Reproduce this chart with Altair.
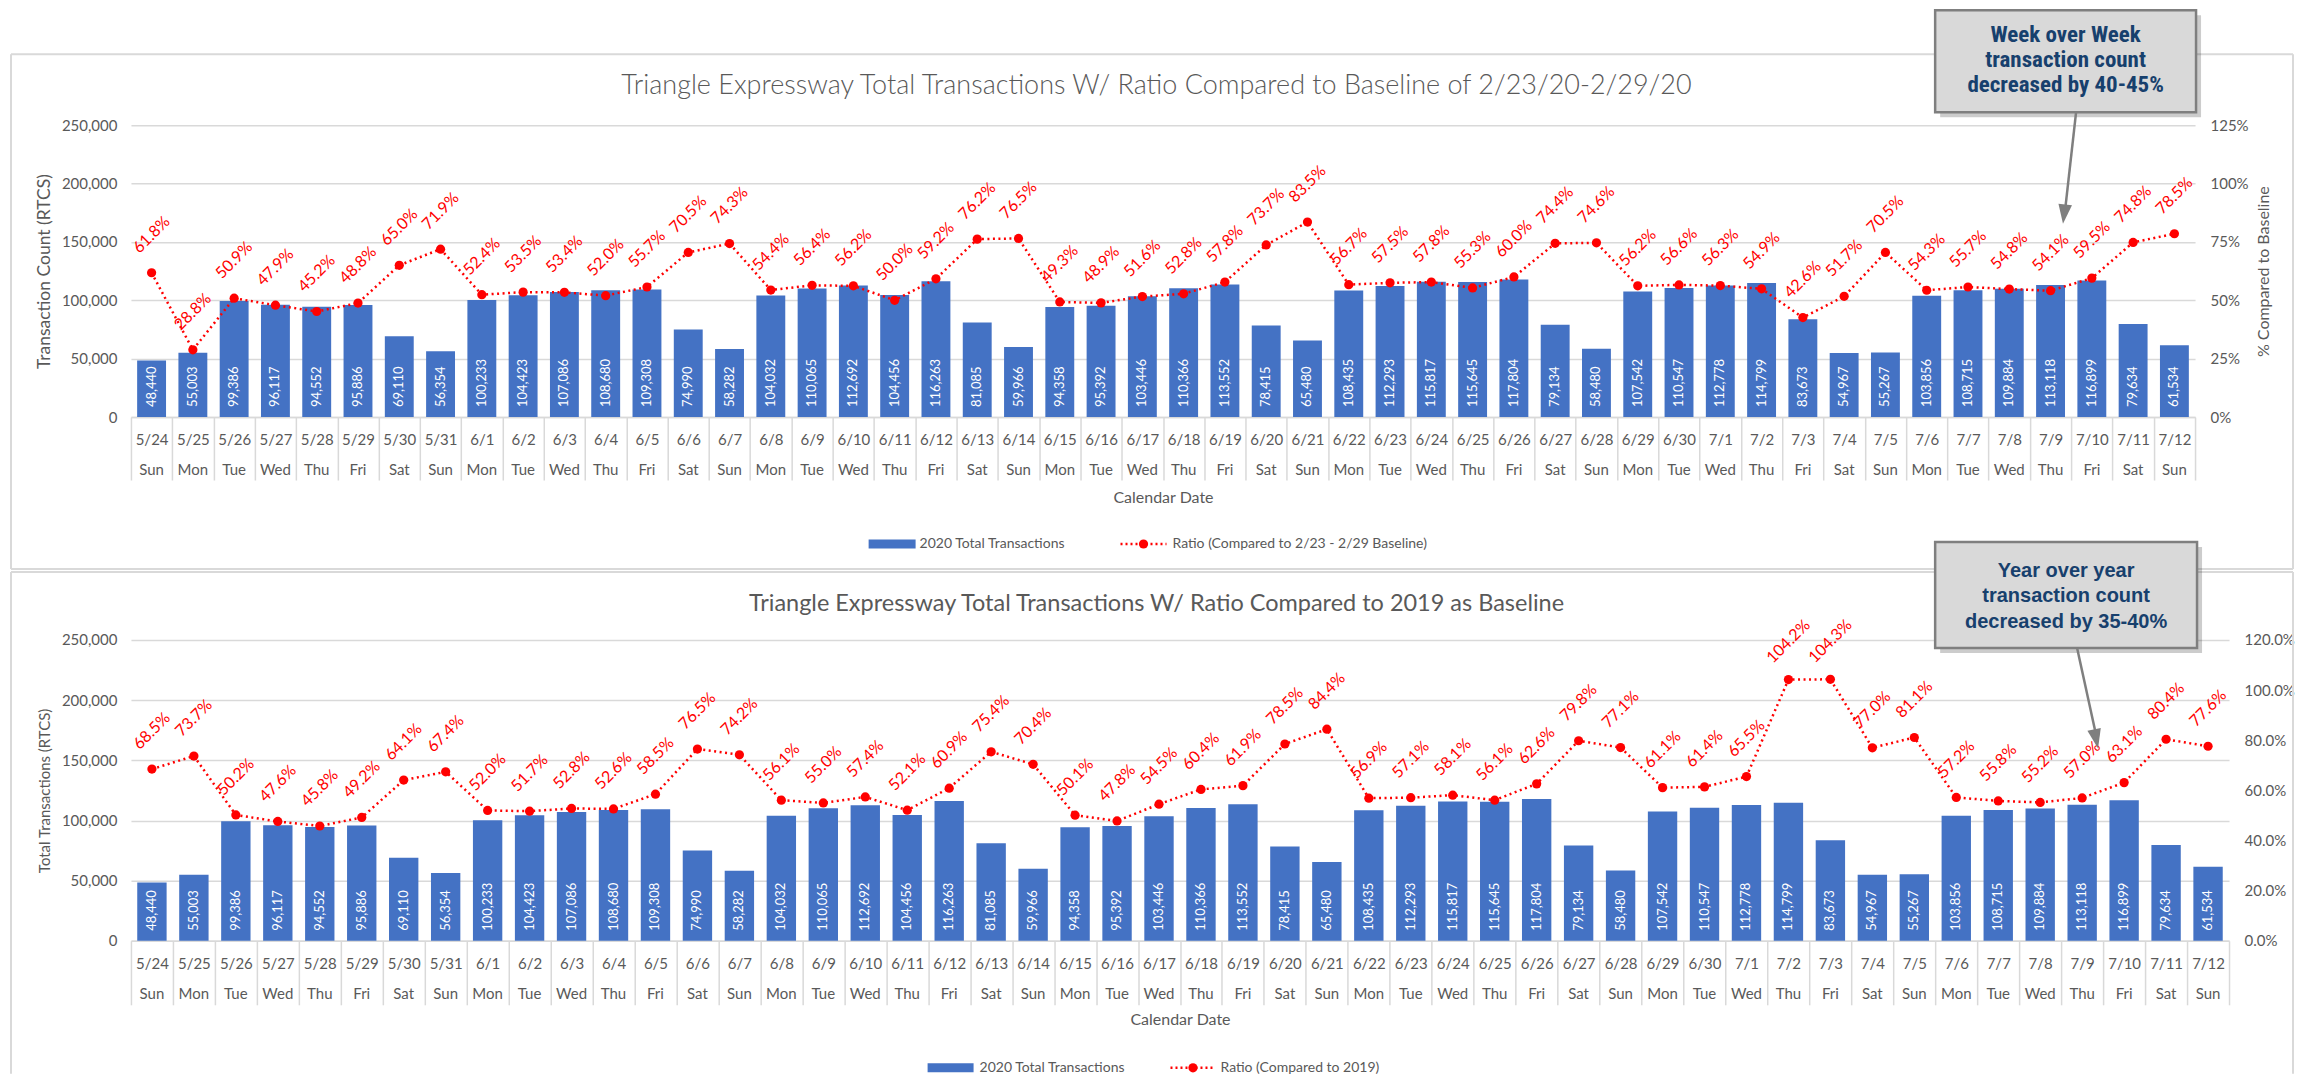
import altair as alt
import pandas as pd

# ---------------- data ----------------
dates = ["5/24", "5/25", "5/26", "5/27", "5/28", "5/29", "5/30", "5/31",
         "6/1", "6/2", "6/3", "6/4", "6/5", "6/6", "6/7",
         "6/8", "6/9", "6/10", "6/11", "6/12", "6/13", "6/14",
         "6/15", "6/16", "6/17", "6/18", "6/19", "6/20", "6/21",
         "6/22", "6/23", "6/24", "6/25", "6/26", "6/27", "6/28",
         "6/29", "6/30", "7/1", "7/2", "7/3", "7/4", "7/5",
         "7/6", "7/7", "7/8", "7/9", "7/10", "7/11", "7/12"]
weekdays = ["Sun", "Mon", "Tue", "Wed", "Thu", "Fri", "Sat", "Sun",
            "Mon", "Tue", "Wed", "Thu", "Fri", "Sat", "Sun",
            "Mon", "Tue", "Wed", "Thu", "Fri", "Sat", "Sun",
            "Mon", "Tue", "Wed", "Thu", "Fri", "Sat", "Sun",
            "Mon", "Tue", "Wed", "Thu", "Fri", "Sat", "Sun",
            "Mon", "Tue", "Wed", "Thu", "Fri", "Sat", "Sun",
            "Mon", "Tue", "Wed", "Thu", "Fri", "Sat", "Sun"]
transactions = [48440, 55003, 99386, 96117, 94552, 95886, 69110, 56354,
                100233, 104423, 107086, 108680, 109308, 74990, 58282,
                104032, 110065, 112692, 104456, 116263, 81085, 59966,
                94358, 95392, 103446, 110366, 113552, 78415, 65480,
                108435, 112293, 115817, 115645, 117804, 79134, 58480,
                107542, 110547, 112778, 114799, 83673, 54967, 55267,
                103856, 108715, 109884, 113118, 116899, 79634, 61534]
ratio_baseline = [61.8, 28.8, 50.9, 47.9, 45.2, 48.8, 65.0, 71.9,
                  52.4, 53.5, 53.4, 52.0, 55.7, 70.5, 74.3,
                  54.4, 56.4, 56.2, 50.0, 59.2, 76.2, 76.5,
                  49.3, 48.9, 51.6, 52.8, 57.8, 73.7, 83.5,
                  56.7, 57.5, 57.8, 55.3, 60.0, 74.4, 74.6,
                  56.2, 56.6, 56.3, 54.9, 42.6, 51.7, 70.5,
                  54.3, 55.7, 54.8, 54.1, 59.5, 74.8, 78.5]
ratio_2019 = [68.5, 73.7, 50.2, 47.6, 45.8, 49.2, 64.1, 67.4,
              52.0, 51.7, 52.8, 52.6, 58.5, 76.5, 74.2,
              56.1, 55.0, 57.4, 52.1, 60.9, 75.4, 70.4,
              50.1, 47.8, 54.5, 60.4, 61.9, 78.5, 84.4,
              56.9, 57.1, 58.1, 56.1, 62.6, 79.8, 77.1,
              61.1, 61.4, 65.5, 104.2, 104.3, 77.0, 81.1,
              57.2, 55.8, 55.2, 57.0, 63.1, 80.4, 77.6]

left_ticks = [0, 50000, 100000, 150000, 200000, 250000]
right_ticks_top = [0, 0.25, 0.5, 0.75, 1.0, 1.25]
right_ticks_bottom = [0, 0.2, 0.4, 0.6, 0.8, 1.0, 1.2]

title_top = "Triangle Expressway Total Transactions W/ Ratio Compared to Baseline of 2/23/20-2/29/20"
title_bottom = "Triangle Expressway Total Transactions W/ Ratio Compared to 2019 as Baseline"
callout_top = ["Week over Week", "transaction count", "decreased by 40-45%"]
callout_bottom = ["Year over year", "transaction count", "decreased by 35-40%"]

FONT = "Lato"
GRAY = "#595959"
LINEC = "#d9d9d9"
RED = "#ff0000"
BLUE = "#4472c4"
NAVY = "#17406d"


def frame(ratios):
    return pd.DataFrame({
        "label": dates,
        "wd": weekdays,
        "count": transactions,
        "ratio": [r / 100 for r in ratios],
        "rtxt": [f"{r:.1f}%" for r in ratios],
        "ctxt": [f"{c:,}" for c in transactions],
    })


def one():
    return pd.DataFrame({"k": [0]})


def xenc(tick_size, label_pad, title_y):
    return alt.X("label:N", sort=None, scale=alt.Scale(paddingInner=0, paddingOuter=0),
                 axis=alt.Axis(title="Calendar Date",
                               labelExpr="isValid(datum.value) ? datum.value : ''",
                               labelAngle=0, labelAlign="center", labelBaseline="middle",
                               labelPadding=label_pad, labelOverlap=False,
                               labelBound=False, labelFlush=False,
                               labelFont=FONT, labelFontSize=15, labelColor=GRAY,
                               tickBand="extent", tickSize=tick_size, tickColor=LINEC, tickWidth=1.5,
                               domainColor=LINEC, domainWidth=1.5, grid=False,
                               titleFont=FONT, titleFontSize=16, titleFontWeight="normal",
                               titleColor=GRAY, titleY=title_y, titleBaseline="middle"))


def panel(df, W, H, xe, wd_off, ytitle, ytitle_size, rdomain, rvalues, rformat, rtitle,
          title, title_size, title_weight, title_y, legend_y, leg, legend_text, border,
          callout, cbox, ctext_y, clh, cfont, csize, arrow):
    yl = alt.Scale(domain=[0, 250000], nice=False, zero=True)
    yr = alt.Scale(domain=rdomain, nice=False, zero=True)

    bars = alt.Chart(df).mark_bar(color=BLUE, width=alt.RelativeBandSize(0.7)).encode(
        x=xe,
        y=alt.Y("count:Q", scale=yl,
                axis=alt.Axis(orient="left", values=left_ticks, format=",d", title=ytitle,
                              grid=True, gridColor=LINEC, gridWidth=1.5, ticks=False, domain=False,
                              labelPadding=14, labelFont=FONT, labelFontSize=15, labelColor=GRAY,
                              titleFont=FONT, titleFontSize=ytitle_size, titleFontWeight="normal",
                              titleColor=GRAY, titleX=-86, titleY=H / 2, titleAngle=270,
                              titleAlign="center", titleBaseline="middle")))
    bar_text = alt.Chart(df).mark_text(color="white", angle=270, align="left", baseline="middle",
                                       dx=10, font=FONT, fontSize=13).encode(
        x=xe, y=alt.Y(datum=0, type="quantitative", scale=yl, axis=None), text="ctxt:N")
    wd_text = alt.Chart(df).mark_text(color=GRAY, align="center", baseline="middle",
                                      font=FONT, fontSize=15).encode(
        x=xe, y=alt.value(H + wd_off), text="wd:N")

    raxis = alt.Axis(orient="right", values=rvalues, format=rformat, grid=False, ticks=False,
                     domain=False, labelPadding=15, labelFont=FONT, labelFontSize=15,
                     labelColor=GRAY, title=rtitle, titleFont=FONT, titleFontSize=16,
                     titleFontWeight="normal", titleColor=GRAY, titleX=68, titleY=H / 2,
                     titleAngle=270, titleAlign="center", titleBaseline="middle")
    line = alt.Chart(df).mark_line(color=RED, strokeDash=[2, 3.5], strokeWidth=2.5).encode(
        x=xe, y=alt.Y("ratio:Q", scale=yr, axis=raxis))
    pts = alt.Chart(df).mark_circle(color=RED, size=85, opacity=1).encode(
        x=xe, y=alt.Y("ratio:Q", scale=yr, axis=None))
    rtext = alt.Chart(df).mark_text(color=RED, angle=315, align="center", baseline="middle",
                                    yOffset=-38, font=FONT, fontSize=16).encode(
        x=xe, y=alt.Y("ratio:Q", scale=yr, axis=None), text="rtxt:N")

    layers = []
    # panel border
    bx0, bx1, by0, by1, closed = border
    layers.append(alt.Chart(one()).mark_rule(color=LINEC, strokeWidth=2).encode(
        x=alt.value(bx0), x2=alt.value(bx1), y=alt.value(by0), y2=alt.value(by0)))
    layers.append(alt.Chart(one()).mark_rule(color=LINEC, strokeWidth=2).encode(
        x=alt.value(bx0), x2=alt.value(bx0), y=alt.value(by0), y2=alt.value(by1)))
    layers.append(alt.Chart(one()).mark_rule(color=LINEC, strokeWidth=2).encode(
        x=alt.value(bx1), x2=alt.value(bx1), y=alt.value(by0), y2=alt.value(by1)))
    if closed:
        layers.append(alt.Chart(one()).mark_rule(color=LINEC, strokeWidth=2).encode(
            x=alt.value(bx0), x2=alt.value(bx1), y=alt.value(by1), y2=alt.value(by1)))

    layers += [bars, bar_text, wd_text, line, pts, rtext]

    # chart title
    layers.append(alt.Chart(one()).mark_text(text=title, font=FONT, fontSize=title_size,
                                             fontWeight=title_weight, color=GRAY,
                                             align="center", baseline="middle").encode(
        x=alt.value(1026), y=alt.value(title_y)))

    # legend
    rx0, rx1, tx0, lx0, lx1, tx1 = leg
    layers.append(alt.Chart(one()).mark_rect(color=BLUE).encode(
        x=alt.value(rx0), x2=alt.value(rx1), y=alt.value(legend_y - 4.5), y2=alt.value(legend_y + 4.5)))
    layers.append(alt.Chart(one()).mark_text(text="2020 Total Transactions", font=FONT, fontSize=14,
                                             color=GRAY, align="left", baseline="middle").encode(
        x=alt.value(tx0), y=alt.value(legend_y)))
    layers.append(alt.Chart(one()).mark_rule(color=RED, strokeDash=[2, 3], strokeWidth=2.5).encode(
        x=alt.value(lx0), x2=alt.value(lx1), y=alt.value(legend_y), y2=alt.value(legend_y)))
    layers.append(alt.Chart(one()).mark_circle(color=RED, size=85, opacity=1).encode(
        x=alt.value((lx0 + lx1) / 2), y=alt.value(legend_y)))
    layers.append(alt.Chart(one()).mark_text(text=legend_text, font=FONT, fontSize=14,
                                             color=GRAY, align="left", baseline="middle").encode(
        x=alt.value(tx1), y=alt.value(legend_y)))

    # callout
    cx0, cx1, cy0, cy1 = cbox
    layers.append(alt.Chart(one()).mark_rect(color="black", opacity=0.2).encode(
        x=alt.value(cx0 + 5), x2=alt.value(cx1 + 5), y=alt.value(cy0 + 5), y2=alt.value(cy1 + 5)))
    layers.append(alt.Chart(one()).mark_rect(fill="#d9d9d9", stroke="#7f7f7f", strokeWidth=2.5).encode(
        x=alt.value(cx0), x2=alt.value(cx1), y=alt.value(cy0), y2=alt.value(cy1)))
    layers.append(alt.Chart(one()).mark_text(text=callout, font=cfont, fontSize=csize,
                                             fontWeight="bold", color=NAVY, align="center",
                                             baseline="middle", lineHeight=clh).encode(
        x=alt.value((cx0 + cx1) / 2), y=alt.value(ctext_y)))
    ax0, ay0, ax1, ay1, hx, hy, hang = arrow
    layers.append(alt.Chart(one()).mark_rule(color="#7f7f7f", strokeWidth=2.5).encode(
        x=alt.value(ax0), y=alt.value(ay0), x2=alt.value(ax1), y2=alt.value(ay1)))
    layers.append(alt.Chart(one()).mark_point(shape="M -0.7 -1 L 0.7 -1 L 0 1 Z", filled=True,
                                              color="#7f7f7f", opacity=1, size=380, angle=hang).encode(
        x=alt.value(hx), y=alt.value(hy)))

    return alt.layer(*layers).resolve_scale(y="independent").properties(width=W, height=H)


top = panel(
    frame(ratio_baseline), 2065, 292,
    xenc(63, -41, 80), 53,
    "Transaction Count (RTCS)", 17.5,
    [0, 1.25], right_ticks_top, ".0%", "% Compared to Baseline",
    title_top, 27, 300, -39, 419,
    (738, 785, 789, 990, 1036, 1042),
    "Ratio (Compared to 2/23 - 2/29 Baseline)",
    (-120, 2163, -71, 444, True),
    callout_top, (1805, 2066, -115, -13), -90, 25,
    "Liberation Sans Narrow, Arial Narrow, Roboto Condensed, sans-serif", 23,
    (1946, -13, 1935, 85, 1934, 89, 6.6),
)

bottom = panel(
    frame(ratio_2019), 2099, 301,
    xenc(64, -41, 79), 53,
    "Total Transactions (RTCS)", 15,
    [0, 1.2], right_ticks_bottom, ".1%", None,
    title_bottom, 23.5, 400, -36, 428,
    (797, 843, 849, 1040, 1085, 1090),
    "Ratio (Compared to 2019)",
    (-120, 2163, -68, 434, False),
    callout_bottom, (1805, 2067, -98, 8), -69, 25.5,
    "Liberation Sans, Arial, sans-serif", 20,
    (1947, 8, 1966, 95, 1966, 99, 348.3),
)

chart = alt.vconcat(top, bottom, spacing=223, bounds="flush").properties(
    padding={"left": 2, "top": 0, "right": 0, "bottom": 0}
).configure_view(stroke=None)

chart.save("out.html", embed_options={"renderer": "svg", "actions": False})
